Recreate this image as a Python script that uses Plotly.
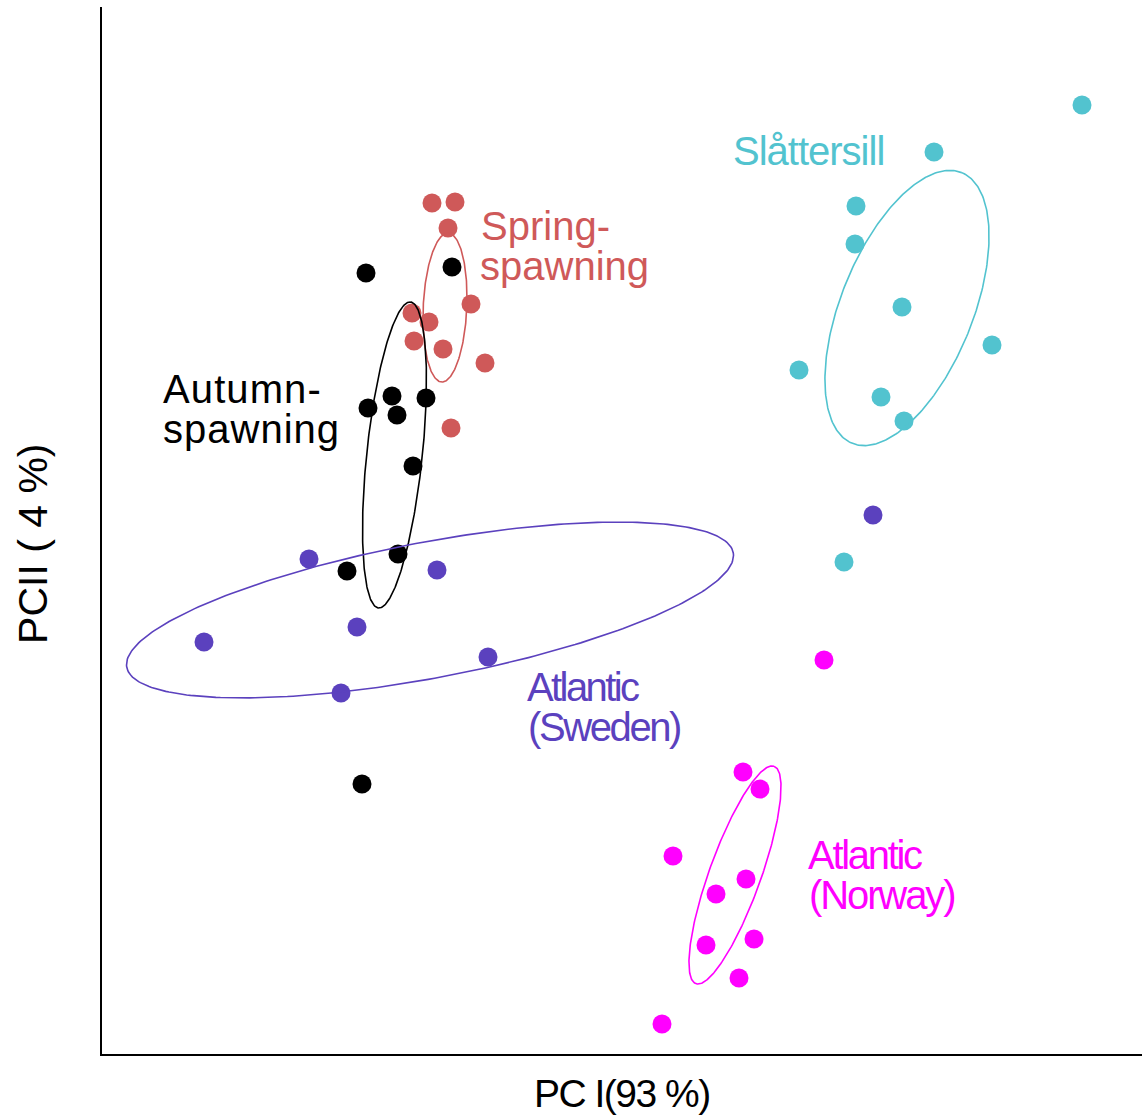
import numpy as np
import plotly.graph_objects as go

# ---- data (arbitrary PCA score units) ----
groups = ["Spring-spawning", "Autumn-spawning", "Atlantic (Sweden)", "Slåttersill", "Atlantic (Norway)"]
colors = ["#CF5959", "#000000", "#5B41BE", "#52C3CF", "#FF00FF"]

spring_x = [330, 353, 346, 369, 310, 327, 312, 341, 383, 349]
spring_y = [851, 852, 826, 750, 741, 732, 713, 705, 691, 626]

autumn_x = [264, 350, 266, 290, 295, 324, 311, 296, 245, 260]
autumn_y = [781, 787, 646, 658, 639, 656, 588, 500, 483, 270]

sweden_x = [207, 335, 255, 102, 386, 239, 771]
sweden_y = [495, 484, 427, 412, 397, 361, 539]

slatt_x = [980, 832, 754, 753, 800, 890, 697, 779, 802, 742]
slatt_y = [949, 902, 848, 810, 747, 709, 684, 657, 633, 492]

norway_x = [641, 658, 571, 644, 614, 604, 652, 637, 560, 722]
norway_y = [282, 265, 198, 175, 160, 109, 115, 76, 30, 394]

# ellipse parameters: centre x, centre y, semi-major, semi-minor, angle (deg)
ell_cx = [343, 292.5, 328, 805, 633]
ell_cy = [746.5, 599, 444, 746, 179]
ell_a = [74.6, 153.8, 308.6, 146, 115.5]
ell_b = [21.8, 27.8, 67.9, 66, 25.8]
ell_ang = [87.5, 84, 10.7, 68, 70.2]

xs = [spring_x, autumn_x, sweden_x, slatt_x, norway_x]
ys = [spring_y, autumn_y, sweden_y, slatt_y, norway_y]

fig = go.Figure()

for g, c, x, y in zip(groups, colors, xs, ys):
    fig.add_trace(go.Scatter(x=x, y=y, mode="markers", name=g,
                             marker=dict(color=c, size=19, line=dict(width=0))))

t = np.linspace(0, 2 * np.pi, 300)
for g, c, cx, cy, a, b, ang in zip(groups, colors, ell_cx, ell_cy, ell_a, ell_b, ell_ang):
    th = np.deg2rad(ang)
    ex = cx + a * np.cos(t) * np.cos(th) - b * np.sin(t) * np.sin(th)
    ey = cy + a * np.cos(t) * np.sin(th) + b * np.sin(t) * np.cos(th)
    fig.add_trace(go.Scatter(x=ex, y=ey, mode="lines", name=g + " ellipse",
                             line=dict(color=c, width=1.6), hoverinfo="skip"))

FONT = "Liberation Sans, Arial, sans-serif"

def sp(txt, ls):
    return f'<span style="letter-spacing:{ls}px">{txt}</span>'

# label lines: text, x, y (cap centre), colour, size, letter-spacing
labels = [
    ("Slåttersill", 631, 903, colors[3], 40, -1),
    ("Spring-", 379, 828, colors[0], 40, 0),
    ("spawning", 378, 788, colors[0], 40, 0),
    ("Autumn-", 61, 665.4, colors[1], 40, 1.1),
    ("spawning", 61, 625.4, colors[1], 40, 1.0),
    ("Atlantic", 425, 367, colors[2], 40, -2.6),
    ("(Sweden)", 426, 327, colors[2], 40, -2.4),
    ("Atlantic", 706, 199, colors[4], 40, -2.3),
    ("(Norway)", 707, 159, colors[4], 40, -2.1),
]

annotations = []
for txt, x, y, c, s, ls in labels:
    annotations.append(dict(x=x, y=y, xref="x", yref="y", text=sp(txt, ls) if ls else txt,
                            showarrow=False, xanchor="left", yanchor="middle",
                            font=dict(family=FONT, size=s, color=c),
                            borderpad=0, borderwidth=0))

# axis titles
annotations.append(dict(x=0.5, y=-0.0382, xref="paper", yref="paper",
                        text=sp("PC I(93 %)", -1.5), showarrow=False,
                        xanchor="center", yanchor="middle",
                        font=dict(family=FONT, size=39, color="#000000"),
                        borderpad=0, borderwidth=0))
annotations.append(dict(x=-0.0663, y=0.4872, xref="paper", yref="paper",
                        text="PCII ( 4 %)", showarrow=False, textangle=-90,
                        xanchor="center", yanchor="middle",
                        font=dict(family=FONT, size=41, color="#000000"),
                        borderpad=0, borderwidth=0))

fig.update_layout(
    width=1142, height=1119,
    margin=dict(l=102, r=0, t=7, b=65),
    paper_bgcolor="white", plot_bgcolor="white",
    showlegend=False,
    annotations=annotations,
    xaxis=dict(range=[0, 1040], showgrid=False, zeroline=False, showticklabels=False,
               ticks="", showline=True, linecolor="black", linewidth=1.6, fixedrange=True),
    yaxis=dict(range=[0, 1047], showgrid=False, zeroline=False, showticklabels=False,
               ticks="", showline=True, linecolor="black", linewidth=1.6, fixedrange=True),
)

fig.write_html("out.html", config={"displayModeBar": False},
               post_script="document.body.style.margin='0';document.body.style.overflow='hidden';")
